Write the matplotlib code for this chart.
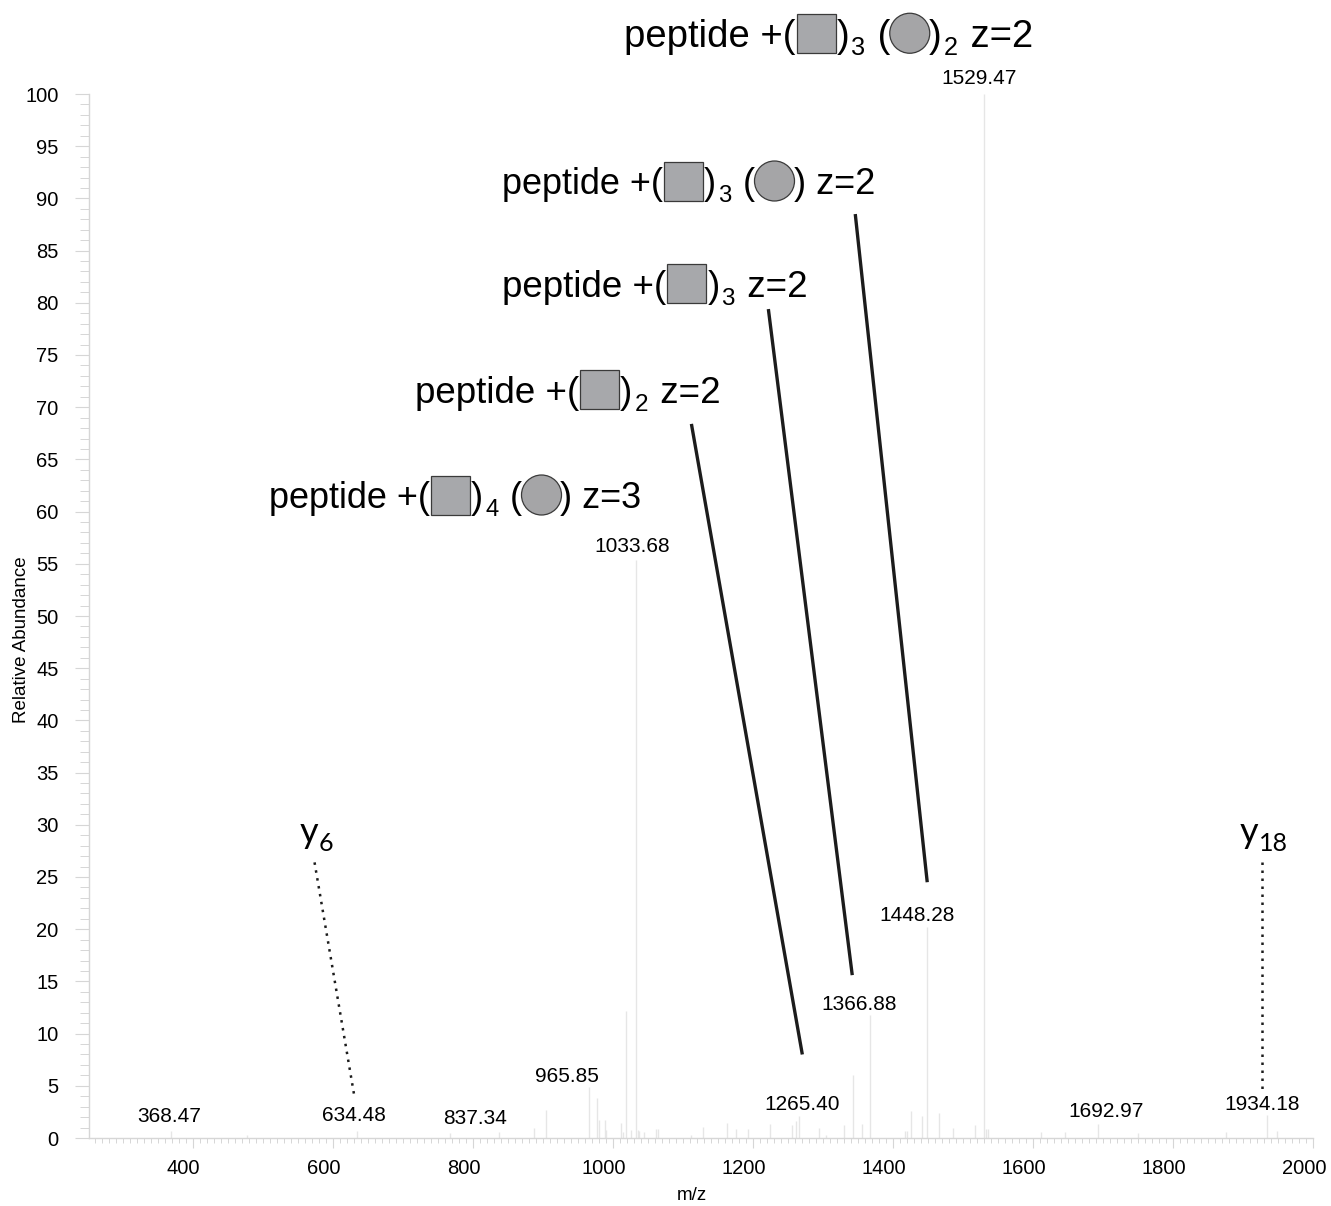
"""MS/MS spectrum of a glycopeptide with annotated precursor / fragment ions."""

import matplotlib

matplotlib.use("Agg")
import matplotlib.pyplot as plt
from matplotlib.patches import Circle, Rectangle
from matplotlib.ticker import MultipleLocator
from matplotlib.transforms import IdentityTransform, ScaledTranslation

plt.rcParams["font.family"] = ["Liberation Sans", "DejaVu Sans"]

W, H, DPI = 1331, 1206, 100

# centroid list: m/z and relative abundance (%)
MZ = [368.47, 477.0, 634.48, 767.0, 837.34, 888.0, 905.0, 965.85, 977.0, 980.0,
      989.5, 991.0, 1012.0, 1015.0, 1019.5, 1026.6, 1033.68, 1036.0, 1038.0, 1045.0,
      1062.0, 1065.0, 1112.0, 1129.0, 1163.0, 1176.0, 1193.6, 1225.0, 1256.0, 1262.0,
      1265.40, 1294.0, 1305.0, 1330.0, 1343.0, 1356.0, 1366.88, 1417.0, 1420.0, 1426.0,
      1442.0, 1448.28, 1466.0, 1486.0, 1517.6, 1529.47, 1533.0, 1536.0, 1612.0, 1646.0,
      1692.97, 1750.0, 1876.0, 1934.18, 1948.0]
ABUND = [0.7, 0.3, 0.7, 0.5, 0.6, 1.0, 2.7, 4.9, 3.8, 1.7,
         1.7, 0.8, 1.4, 0.6, 12.2, 0.8, 55.4, 0.8, 0.7, 0.6,
         0.9, 0.9, 0.3, 1.1, 1.4, 0.9, 0.9, 1.3, 1.2, 1.6,
         2.1, 1.0, 0.3, 1.2, 6.0, 1.3, 11.8, 0.7, 0.7, 2.6,
         2.1, 20.2, 2.4, 1.0, 1.2, 100.0, 0.9, 0.9, 0.6, 0.6,
         1.3, 0.5, 0.6, 2.2, 0.7]

# peaks that get an m/z label, and where each label is centred (data coords)
LABEL_MZ = [368.47, 634.48, 837.34, 965.85, 1033.68, 1265.40, 1366.88, 1448.28,
            1529.47, 1692.97, 1934.18]
LABEL_X = [366, 631, 804, 935, 1028, 1271, 1352, 1435, 1523, 1705, 1927]
LABEL_Y = [2.1, 2.2, 1.9, 5.9, 56.7, 3.2, 12.8, 21.3, 101.5, 2.5, 3.2]

# glycoform labels: left x, baseline y (pixels from top-left), font size, tokens
GLYCO = [
    (624, 47, 27.5, [("t", "peptide +("), ("sq", ""), ("t", ")"), ("s", "3"), ("t", " ("),
                     ("ci", ""), ("t", ")"), ("s", "2"), ("t", " z=2")]),
    (502, 194, 26, [("t", "peptide +("), ("sq", ""), ("t", ")"), ("s", "3"), ("t", " ("),
                    ("ci", ""), ("t", ") z=2")]),
    (502, 297, 26.5, [("t", "peptide +("), ("sq", ""), ("t", ")"), ("s", "3"),
                      ("t", " z=2")]),
    (415, 403, 26.5, [("t", "peptide +("), ("sq", ""), ("t", ")"), ("s", "2"),
                      ("t", " z=2")]),
    (269, 508, 26, [("t", "peptide +("), ("sq", ""), ("t", ")"), ("s", "4"), ("t", " ("),
                    ("ci", ""), ("t", ") z=3")]),
]

# leader lines from glycoform labels down to their peaks (data coords)
LEAD_X0 = [1346.3, 1222.2, 1112.3]
LEAD_Y0 = [88.5, 79.4, 68.4]
LEAD_X1 = [1449.1, 1342.0, 1270.7]
LEAD_Y1 = [24.5, 15.6, 8.0]

# fragment ion labels (y ions) with dotted leaders
ION_NAME = ["y", "y"]
ION_SUB = ["6", "18"]
ION_PX = [300, 1240]
ION_BASE = [843, 843]
ION_X0 = [574.1, 1927.3]
ION_Y0 = [26.4, 26.4]
ION_X1 = [631.2, 1927.3]
ION_Y1 = [3.9, 4.4]

PEAK_COLOR = "#e6e6e6"
AXIS_COLOR = "#d6d6d6"


def layout(fig, renderer, x0, base, tokens, size=26, sub_size=17, family=None, sub_gap=4):
    """Lay out a run of text pieces and glycan symbols in pixel coords."""
    ident = IdentityTransform()
    em = size * DPI / 72
    x = x0
    kw = {"family": family} if family else {}
    for kind, s in tokens:
        if kind == "t":
            t = fig.text(x, H - base, s, transform=ident, fontsize=size,
                         va="baseline", ha="left", **kw)
            x += t.get_window_extent(renderer).width
        elif kind == "s":
            t = fig.text(x + sub_gap / 2, H - base - 8, s, transform=ident,
                         fontsize=sub_size, va="baseline", ha="left", **kw)
            x += t.get_window_extent(renderer).width + sub_gap
        elif kind == "sq":
            side = 39
            cy = base - 0.36 * em
            fig.add_artist(Rectangle((x + 1, H - cy - side / 2), side, side,
                                     transform=ident, facecolor="#a7a8ab",
                                     edgecolor="#3a3a3a", lw=0.9))
            x += side + 2
        elif kind == "ci":
            r = 20
            cy = base - 0.36 * em
            fig.add_artist(Circle((x - 1 + r, H - cy), r, transform=ident,
                                  facecolor="#a5a5a7", edgecolor="#3a3a3a", lw=0.9))
            x += 2 * r - 2


def main():
    fig = plt.figure(figsize=(W / DPI, H / DPI), dpi=DPI)
    ax = fig.add_axes([89 / W, 1 - 1138 / H, 1224 / W, 1044 / H])

    ax.vlines(MZ, 0, ABUND, color=PEAK_COLOR, lw=1.0)

    for mz, lx, ly in zip(LABEL_MZ, LABEL_X, LABEL_Y):
        ax.text(lx, ly, f"{mz:.2f}", fontsize=15, ha="center", va="center")

    for x0, y0, x1, y1 in zip(LEAD_X0, LEAD_Y0, LEAD_X1, LEAD_Y1):
        ax.plot([x0, x1], [y0, y1], color="#1c1c1c", lw=2.4, clip_on=False,
                solid_capstyle="butt")
    for x0, y0, x1, y1 in zip(ION_X0, ION_Y0, ION_X1, ION_Y1):
        ax.plot([x0, x1], [y0, y1], color="#1c1c1c", lw=1.8, ls=(0, (1, 2.2)),
                clip_on=False)

    ax.set_xlim(252, 2000)
    ax.set_ylim(0, 100)
    ax.xaxis.set_major_locator(MultipleLocator(200))
    ax.xaxis.set_minor_locator(MultipleLocator(10))
    ax.yaxis.set_major_locator(MultipleLocator(5))
    ax.yaxis.set_minor_locator(MultipleLocator(1))

    for side in ("top", "right"):
        ax.spines[side].set_visible(False)
    for side in ("left", "bottom"):
        ax.spines[side].set_color(AXIS_COLOR)
        ax.spines[side].set_linewidth(1.0)

    ax.tick_params(axis="x", which="major", length=7.2, width=0.8, color=AXIS_COLOR,
                   pad=8, labelsize=14.5)
    ax.tick_params(axis="x", which="minor", length=3.6, width=0.7, color=AXIS_COLOR)
    ax.tick_params(axis="y", which="major", length=10, width=0.8, color=AXIS_COLOR,
                   pad=12, labelsize=14.5)
    ax.tick_params(axis="y", which="minor", length=6.5, width=0.7, color=AXIS_COLOR)

    shift = ScaledTranslation(-9 / DPI, 0, fig.dpi_scale_trans)
    for lab in ax.get_xticklabels():
        lab.set_transform(lab.get_transform() + shift)

    ax.set_xlabel("m/z", fontsize=13.5, va="center")
    ax.xaxis.set_label_coords((692 - 89) / 1224, -(1195 - 1138) / 1044)
    ax.set_ylabel("Relative Abundance", fontsize=13.5, va="center")
    ax.yaxis.set_label_coords((22 - 89) / 1224, (1138 - 640) / 1044)

    renderer = fig.canvas.get_renderer()
    for x0, base, size, tokens in GLYCO:
        layout(fig, renderer, x0, base, tokens, size=size, sub_size=size * 0.66)

    for name, sub, px, base in zip(ION_NAME, ION_SUB, ION_PX, ION_BASE):
        layout(fig, renderer, px, base, [("t", name), ("s", sub)], size=26,
               sub_size=18, family=["Lato", "DejaVu Sans"], sub_gap=1)

    fig.savefig("out.png", dpi=DPI)


if __name__ == "__main__":
    main()
